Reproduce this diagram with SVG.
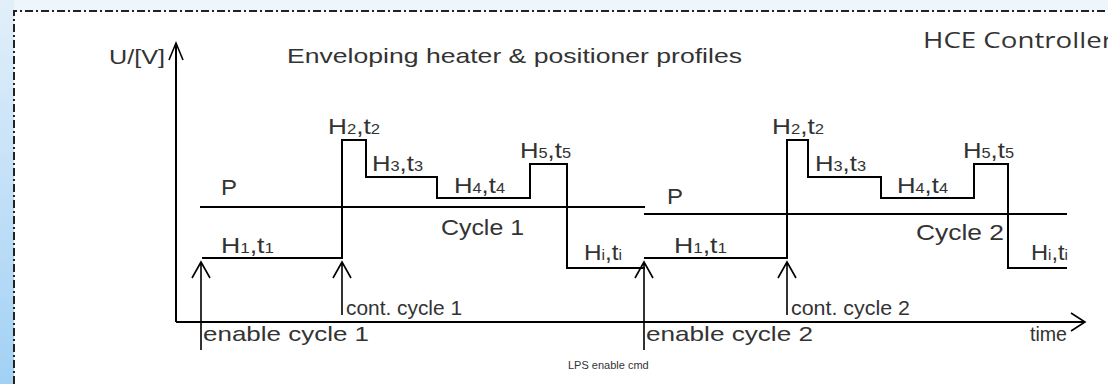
<svg xmlns="http://www.w3.org/2000/svg" width="1108" height="384" viewBox="0 0 1108 384">
<defs>
<linearGradient id="gl" x1="0" y1="0" x2="0" y2="1">
<stop offset="0" stop-color="#e2effa"/>
<stop offset="1" stop-color="#a2d1f4"/>
</linearGradient>
<style>
.ln{fill:none;stroke:#000;stroke-width:2}
.ar{fill:none;stroke:#000;stroke-width:1.6}
.bd{fill:none;stroke:#222;stroke-width:2;stroke-dasharray:8 3 2 3}
.t{font-family:"Liberation Sans",Arial,sans-serif;font-size:21px;fill:#333}
.h{font-family:"Liberation Sans",Arial,sans-serif;font-size:22px;fill:#333}
.s{font-size:14px}
.hce{font-family:"Open Sans","Liberation Sans",sans-serif;font-size:21px;fill:#333}
.sm{font-family:"Liberation Sans",Arial,sans-serif;font-size:11px;fill:#333}
</style>
</defs>
<rect width="1108" height="384" fill="#fff"/>
<rect x="0" y="0" width="1108" height="11" fill="#eef5fb"/>
<rect x="0" y="0" width="14" height="384" fill="url(#gl)"/>
<path class="bd" d="M14,384 V11 H1108"/>

<g id="titles">
<text class="t" x="287" y="63" font-size="22" textLength="455" lengthAdjust="spacingAndGlyphs">Enveloping heater &amp; positioner profiles</text>
<text class="hce" x="923" y="48" textLength="190" lengthAdjust="spacingAndGlyphs">HCE Controller</text>
</g>

<g id="axes">
<path class="ln" d="M176,322 V43 M176,322 H1085"/>
<path class="ar" d="M169,60 L176,43 L183,60 M1071,313 L1085,322 L1071,331"/>
<text class="t" x="109" y="64" textLength="56" lengthAdjust="spacingAndGlyphs">U/[V]</text>
<text class="t" x="1030" y="341" textLength="37" lengthAdjust="spacingAndGlyphs">time</text>
</g>

<g id="cycle1">
<path class="ln" d="M200,207 H645"/>
<path class="ln" d="M202,258 H342 V140 H366 V177 H437 V198 H530 V164 H567 V268 H645"/>
<text class="h" x="221" y="195" textLength="16" lengthAdjust="spacingAndGlyphs">P</text>
<text class="h" x="221" y="253" textLength="53" lengthAdjust="spacingAndGlyphs">H<tspan class="s">1</tspan>,t<tspan class="s">1</tspan></text>
<text class="h" x="328" y="134" textLength="52" lengthAdjust="spacingAndGlyphs">H<tspan class="s">2</tspan>,t<tspan class="s">2</tspan></text>
<text class="h" x="372" y="171" textLength="51" lengthAdjust="spacingAndGlyphs">H<tspan class="s">3</tspan>,t<tspan class="s">3</tspan></text>
<text class="h" x="454" y="193" textLength="51" lengthAdjust="spacingAndGlyphs">H<tspan class="s">4</tspan>,t<tspan class="s">4</tspan></text>
<text class="h" x="520" y="158" textLength="51" lengthAdjust="spacingAndGlyphs">H<tspan class="s">5</tspan>,t<tspan class="s">5</tspan></text>
<text class="h" x="584" y="260" textLength="38" lengthAdjust="spacingAndGlyphs">H<tspan class="s">i</tspan>,t<tspan class="s">i</tspan></text>
<text class="h" x="441" y="235" textLength="83" lengthAdjust="spacingAndGlyphs">Cycle 1</text>
</g>

<g id="cycle2">
<path class="ln" d="M644,214 H1067"/>
<path class="ln" d="M644,258 H787 V140 H808 V177 H881 V198 H974 V164 H1008 V268 H1067"/>
<text class="h" x="667" y="204" textLength="16" lengthAdjust="spacingAndGlyphs">P</text>
<text class="h" x="674" y="253" textLength="53" lengthAdjust="spacingAndGlyphs">H<tspan class="s">1</tspan>,t<tspan class="s">1</tspan></text>
<text class="h" x="772" y="134" textLength="52" lengthAdjust="spacingAndGlyphs">H<tspan class="s">2</tspan>,t<tspan class="s">2</tspan></text>
<text class="h" x="815" y="171" textLength="51" lengthAdjust="spacingAndGlyphs">H<tspan class="s">3</tspan>,t<tspan class="s">3</tspan></text>
<text class="h" x="897" y="193" textLength="51" lengthAdjust="spacingAndGlyphs">H<tspan class="s">4</tspan>,t<tspan class="s">4</tspan></text>
<text class="h" x="963" y="158" textLength="51" lengthAdjust="spacingAndGlyphs">H<tspan class="s">5</tspan>,t<tspan class="s">5</tspan></text>
<text class="h" x="1031" y="260" textLength="37" lengthAdjust="spacingAndGlyphs">H<tspan class="s">i</tspan>,t<tspan class="s">i</tspan></text>
<text class="h" x="916" y="240" textLength="88" lengthAdjust="spacingAndGlyphs">Cycle 2</text>
</g>

<g id="connectors">
<path class="ar" d="M201,350 V262 M192,278 L201,262 L210,278"/>
<path class="ar" d="M342,315 V262 M333,278 L342,262 L351,278"/>
<path class="ar" d="M644,350 V262 M635,278 L644,262 L653,278"/>
<path class="ar" d="M787,315 V262 M778,278 L787,262 L796,278"/>
</g>

<g id="events">
<text class="t" x="203" y="341" textLength="166" lengthAdjust="spacingAndGlyphs">enable cycle 1</text>
<text class="t" x="346" y="315" textLength="116" lengthAdjust="spacingAndGlyphs">cont. cycle 1</text>
<text class="t" x="646" y="341" textLength="167" lengthAdjust="spacingAndGlyphs">enable cycle 2</text>
<text class="t" x="791" y="315" textLength="119" lengthAdjust="spacingAndGlyphs">cont. cycle 2</text>
<text class="sm" x="568" y="369">LPS enable cmd</text>
</g>
</svg>
